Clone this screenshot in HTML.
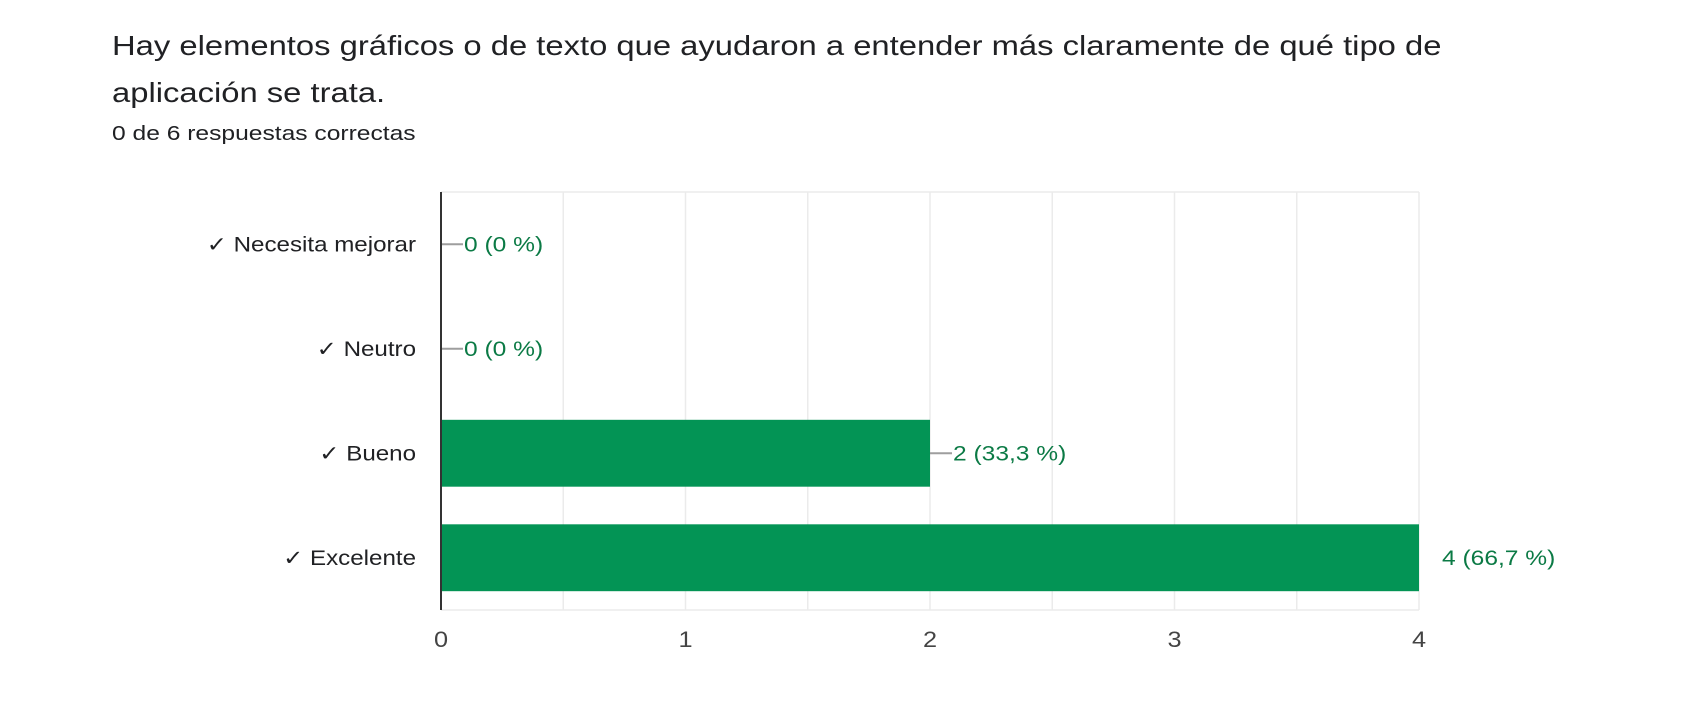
<!DOCTYPE html>
<html><head><meta charset="utf-8"><style>
body{margin:0;background:#fff;width:1684px;height:710px;overflow:hidden;font-family:"Liberation Sans",Arial,sans-serif}
#t{position:absolute;left:112px;top:22px;font-size:28px;line-height:47px;color:#202124;width:1400px;transform:scaleX(1.17);transform-origin:left top;white-space:nowrap}
#s{position:absolute;left:112px;top:123px;font-size:20px;color:#202124;transform:scaleX(1.23);transform-origin:left top}
</style></head><body>
<div id="t">Hay elementos gráficos o de texto que ayudaron a entender más claramente de qué tipo de<br>aplicación se trata.</div>
<div id="s">0 de 6 respuestas correctas</div>
<svg id="c" width="1684" height="710" style="position:absolute;left:0;top:0"></svg>
<script>
const categories=["✓ Necesita mejorar","✓ Neutro","✓ Bueno","✓ Excelente"];
const values=[0,0,2,4];
const valueLabels=["0 (0 %)","0 (0 %)","2 (33,3 %)","4 (66,7 %)"];
const ticks=[0,1,2,3,4];
const svg=document.getElementById('c');const NS='http://www.w3.org/2000/svg';
const x0=441,x1=1419,yTop=192,yBot=610,xmax=4;
const X=v=>x0+(x1-x0)*v/xmax;
const band=(yBot-yTop)/categories.length;
const Yc=i=>yTop+band*(i+0.5);
function el(t,a,txt){const e=document.createElementNS(NS,t);for(const k in a)e.setAttribute(k,a[k]);if(txt!==undefined)e.textContent=txt;svg.appendChild(e);return e;}
for(let g=0;g<=xmax*2;g++){const e=el('line',{x1:X(g/2),x2:X(g/2),y1:yTop,y2:yBot,stroke:'#ebebeb','stroke-width':1.5});}
let f=el('line',{x1:x0,x2:x1,y1:yTop,y2:yTop,stroke:'#ebebeb','stroke-width':1.5});
f=el('line',{x1:x0,x2:x1,y1:yBot,y2:yBot,stroke:'#ebebeb','stroke-width':1.5});
categories.forEach((c,i)=>{
 const y=Yc(i),h=band*0.64,v=values[i];
 const lab=el('text',{x:0,y:0,transform:`translate(416,${y+7}) scale(1.15,1)`,'text-anchor':'end','font-size':21,fill:'#202124'},c);
 
 if(v>0){const r=el('rect',{x:x0,y:y-h/2,width:X(v)-x0,height:h,fill:'#039455'});}
 const ex=X(v);const lx=v<xmax?ex+23:ex+23;
 if(v<xmax){const l=el('line',{x1:ex,x2:ex+22,y1:y,y2:y,stroke:'#9e9e9e','stroke-width':2});}
 const t=el('text',{x:0,y:0,transform:`translate(${lx},${y+7}) scale(1.17,1)`,'font-size':21,fill:'#0b7a45'},valueLabels[i]);
 
});
const ax=el('line',{x1:x0,x2:x0,y1:yTop,y2:yBot,stroke:'#333','stroke-width':2});
ticks.forEach(v=>{const t=el('text',{x:0,y:0,transform:`translate(${X(v)},647) scale(1.15,1)`,'text-anchor':'middle','font-size':22,fill:'#444'},String(v));});
</script>
</body></html>
